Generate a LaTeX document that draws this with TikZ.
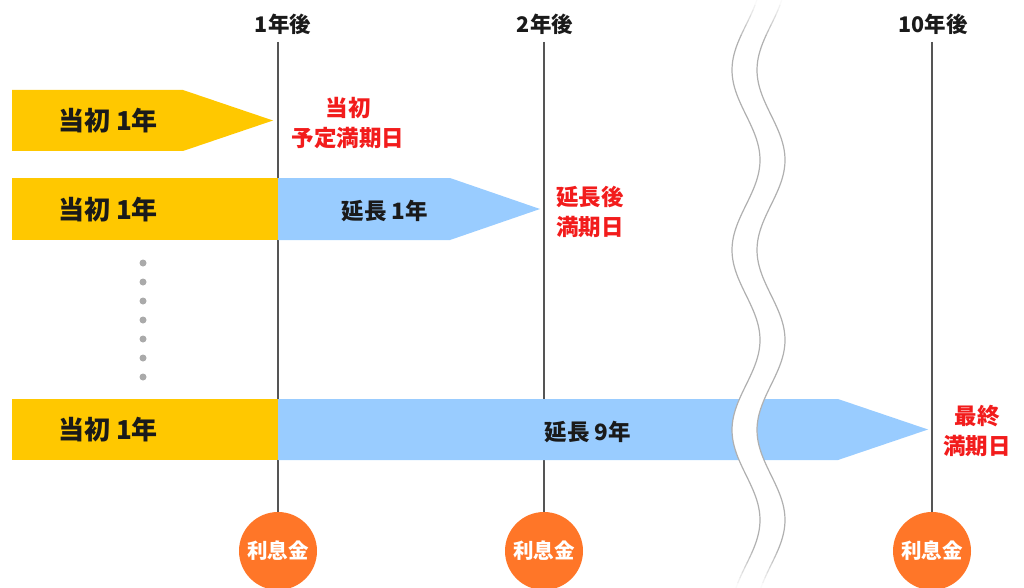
\documentclass[tikz,border=0pt]{standalone}
\usepackage{fontspec}
\newfontfamily\jp{Noto Sans CJK JP}
\definecolor{ylw}{HTML}{FFC800}
\definecolor{blu}{HTML}{99CCFF}
\definecolor{redt}{HTML}{F21C1C}
\definecolor{org}{HTML}{FF7628}
\definecolor{vline}{HTML}{555555}
\definecolor{wavec}{HTML}{B0B0B0}
\definecolor{dotc}{HTML}{AAAAAA}
\definecolor{txt}{HTML}{1A1A1A}
\begin{document}
\begin{tikzpicture}[x=1pt,y=-1pt,
  toplab/.style={font=\jp\bfseries\fontsize{21.5}{21.5}\selectfont, text=txt, inner sep=0pt},
  bartext/.style={font=\jp\bfseries\fontsize{26}{26}\selectfont, text=txt, inner sep=0pt},
  exttext/.style={font=\jp\bfseries\fontsize{22.5}{22.5}\selectfont, text=txt, inner sep=0pt},
  redlab/.style={font=\jp\bfseries\fontsize{22.5}{30}\selectfont, text=redt, align=center, inner sep=0pt},
  circ/.style={circle, fill=org, minimum size=78pt, inner sep=0pt, text=white, font=\jp\bfseries\fontsize{20.5}{20.5}\selectfont},
  vl/.style={draw=vline, line width=1.5pt},
  wavel/.style={draw=wavec, line width=1.2pt},
]
\useasboundingbox (0,0) rectangle (1024,588);

% top labels and circles
\node[toplab] (t1) at (283,24) {1年後};
\node[toplab] (t2) at (545,24) {2年後};
\node[toplab] (t10) at (933,24) {10年後};
\node[circ] (c1) at (278,551) {利息金};
\node[circ] (c2) at (544,551) {利息金};
\node[circ] (c10) at (932,551) {利息金};
\coordinate (s1) at (278,42);
\coordinate (s2) at (544,42);
\coordinate (s10) at (932,42);
\draw[vl] (s1) -- (c1.north);
\draw[vl] (s2) -- (c2.north);
\draw[vl] (s10) -- (c10.north);

% row 1
\fill[ylw] (12,90) -- (183,90) -- (273,120.5) -- (183,151) -- (12,151) -- cycle;
\node[bartext] (r1) at (108,121) {当初 1年};
\node[redlab] (m1) at (348,123) {当初\\予定満期日};

% row 2
\fill[ylw] (12,178) rectangle (278,240);
\fill[blu] (278,178) -- (450,178) -- (540,209) -- (450,240) -- (278,240) -- cycle;
\node[bartext] (r2) at (108,210) {当初 1年};
\node[exttext] (e2) at (385,211) {延長 1年};
\node[redlab] (m2) at (590,212) {延長後\\満期日};

% dots
\foreach \yy [count=\k] in {263,282,301,320,339,358,377}
  \fill[dotc] (143,\yy) circle (3.5pt) coordinate (d\k);

% row 3
\fill[ylw] (12,399) rectangle (278,460);
\fill[blu] (278,399) -- (838,399) -- (928,429.5) -- (838,460) -- (278,460) -- cycle;
\node[bartext] (r3) at (108,430) {当初 1年};
\node[exttext] (e3) at (588,432) {延長 9年};
\node[redlab] (m3) at (977,431) {最終\\満期日};

% wavy break
\fill[white] plot[domain=0:588, samples=150, variable=\t] ({746-14*cos(2*(\t-70))},\t)
  -- plot[domain=588:0, samples=150, variable=\t] ({771-14*cos(2*(\t-70))},\t) -- cycle;
\draw[wavel] plot[domain=40:548, samples=140, variable=\t] ({746-14*cos(2*(\t-70))},\t);
\draw[wavel] plot[domain=40:548, samples=140, variable=\t] ({771-14*cos(2*(\t-70))},\t);
\foreach \i in {0,...,7} {
  \pgfmathsetmacro\op{(\i+0.5)/8}
  \pgfmathsetmacro\ya{\i*5}
  \pgfmathsetmacro\yb{\i*5+5}
  \pgfmathsetmacro\yc{588-\i*5}
  \pgfmathsetmacro\yd{583-\i*5}
  \draw[wavel, opacity=\op] plot[domain=\ya:\yb, samples=4, variable=\t] ({746-14*cos(2*(\t-70))},\t);
  \draw[wavel, opacity=\op] plot[domain=\ya:\yb, samples=4, variable=\t] ({771-14*cos(2*(\t-70))},\t);
  \draw[wavel, opacity=\op] plot[domain=\yd:\yc, samples=4, variable=\t] ({746-14*cos(2*(\t-70))},\t);
  \draw[wavel, opacity=\op] plot[domain=\yd:\yc, samples=4, variable=\t] ({771-14*cos(2*(\t-70))},\t);
}
\end{tikzpicture}
\end{document}
